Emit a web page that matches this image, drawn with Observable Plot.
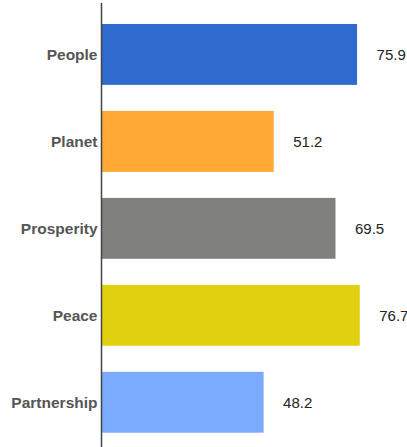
<!DOCTYPE html>
<html>
<head>
<meta charset="utf-8">
<script src="https://cdn.jsdelivr.net/npm/d3@7"></script>
<script src="https://cdn.jsdelivr.net/npm/@observablehq/plot@0.6"></script>
<style>
  html, body { margin: 0; padding: 0; background: #fff; }
</style>
</head>
<body>
<div id="chart"></div>
<script>
const categories = ["People", "Planet", "Prosperity", "Peace", "Partnership"];
const values = [75.9, 51.2, 69.5, 76.7, 48.2];
const colors = ["#2F6BCE", "#FFA836", "#80807C", "#E0D010", "#7BABFF"];

const data = categories.map((c, i) => ({category: c, value: values[i], color: colors[i]}));

const chart = Plot.plot({
  width: 407,
  height: 447,
  marginLeft: 101,
  marginRight: 0,
  marginTop: 3,
  marginBottom: 0,
  style: {fontFamily: "'Liberation Sans', Arial, sans-serif", background: "#fff"},
  x: {domain: [0, 90.7], axis: null},
  y: {domain: categories, paddingInner: 0.3, paddingOuter: 0.203, align: 0.595, round: false, label: null},
  marks: [
    Plot.barX(data, {x: "value", y: "category", fill: "color"}),
    Plot.text(data, {x: "value", y: "category", text: d => d.value.toFixed(1), textAnchor: "start", dx: 19, fontSize: 15, fill: "#222"}),
    Plot.axisY({tickSize: 0, tickPadding: 4, fontSize: 15.5, fontWeight: "bold", fill: "#555", label: null}),
    Plot.ruleX([0], {stroke: "#444", strokeWidth: 1.5})
  ]
});
document.getElementById("chart").appendChild(chart);
</script>
</body>
</html>
